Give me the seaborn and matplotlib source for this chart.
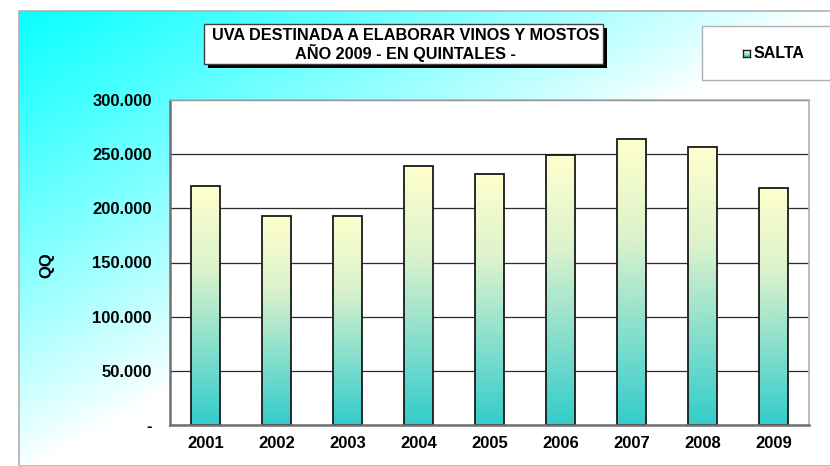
import numpy as np
import matplotlib
matplotlib.use("Agg")
import matplotlib.pyplot as plt
import matplotlib.patches as mpatches
from matplotlib.ticker import FuncFormatter, FixedLocator
import seaborn as sns

years = ["2001", "2002", "2003", "2004", "2005", "2006", "2007", "2008", "2009"]
values = [220600, 192900, 193200, 239100, 232000, 249000, 264000, 256600, 219000]
title_lines = ["UVA DESTINADA A ELABORAR VINOS Y MOSTOS", "AÑO 2009 - EN QUINTALES -"]
series_name = "SALTA"
y_label = "QQ"

sns.set_style("white")
plt.rcParams["font.family"] = ["Liberation Sans", "DejaVu Sans"]
plt.rcParams["text.color"] = "black"
plt.rcParams["xtick.color"] = "black"
plt.rcParams["ytick.color"] = "black"

W, H = 830, 466
fig = plt.figure(figsize=(W / 100, H / 100), dpi=100)
fig.patch.set_facecolor("white")


def fx(x):
    return x / W


def fy(y):
    return 1 - y / H


# background gradient (chart area)
bg = fig.add_axes([fx(19), 0, 1 - fx(19), fy(11)])
bg.set_axis_off()
ny, nx = 200, 400
xx, yy = np.meshgrid(np.linspace(0, 1, nx), np.linspace(0, 1, ny))
t = np.clip(1 - (xx * 1.0 + yy * 0.98), 0, 1) ** 0.9
img = np.ones((ny, nx, 3))
img[..., 0] = 1 - t * 0.97
bg.imshow(img, aspect="auto", extent=[0, 1, 1, 0], interpolation="bilinear")
bg.set_xlim(0, 1)
bg.set_ylim(1, 0)
fig.add_artist(mpatches.Rectangle((fx(19), 0), 1, fy(11), transform=fig.transFigure,
                                  fill=False, edgecolor="#b0b0b0", lw=1.2))

# main axes
ax = fig.add_axes([fx(170), fy(425), fx(809) - fx(170), fy(100) - fy(425)])
ax.set_facecolor("white")
sns.barplot(x=years, y=values, width=0.4, color="#ffffcc", edgecolor="#1a1a1a",
            linewidth=1.3, ax=ax, zorder=3)

# gradient fill per bar
top_c = np.array([1.0, 1.0, 0.80])
mid_c = np.array([0.86, 0.95, 0.80])
bot_c = np.array([0.20, 0.80, 0.80])
grad_n = 256
g = np.linspace(0, 1, grad_n)[:, None]  # 0 top -> 1 bottom
cols = np.where(g < 0.35,
                top_c + (mid_c - top_c) * (g / 0.35),
                mid_c + (bot_c - mid_c) * ((g - 0.35) / 0.65))
grad = np.repeat(cols[:, None, :], 2, axis=1).reshape(grad_n, 2, 3)
for p in ax.patches:
    x0, y0 = p.get_x(), p.get_y()
    w, h = p.get_width(), p.get_height()
    im = ax.imshow(grad, extent=[x0, x0 + w, y0, y0 + h], aspect="auto",
                   origin="upper", zorder=2.9, interpolation="bilinear")
    im.set_clip_path(p)
    p.set_facecolor("none")

ax.set_xlim(-0.5, 8.5)
ax.set_ylim(0, 300000)
ax.set_yticks(np.arange(0, 300001, 50000))
ax.yaxis.set_major_formatter(FuncFormatter(lambda v, pos: "-" if v == 0 else f"{int(v):,}".replace(",", ".")))
ax.yaxis.grid(True, color="#2a2a2a", lw=0.9)
ax.set_axisbelow(True)
ax.tick_params(axis="y", direction="out", length=5, width=1, color="#707070", pad=8,
               labelsize=12, labelcolor="black")
ax.tick_params(axis="x", which="major", length=0, pad=8, labelsize=12, labelcolor="black")
ax.xaxis.set_minor_locator(FixedLocator(np.arange(-0.5, 9, 1)))
ax.tick_params(axis="x", which="minor", direction="out", length=5, width=1, color="#707070")
for lbl in ax.get_xticklabels() + ax.get_yticklabels():
    lbl.set_fontweight("bold")
ax.set_xlabel("")
ax.set_ylabel("")
for s in ["left", "bottom"]:
    ax.spines[s].set_color("#707070")
    ax.spines[s].set_linewidth(1.8)
for s in ["top", "right"]:
    ax.spines[s].set_color("#b0b0b0")
    ax.spines[s].set_linewidth(1.2)
ax.spines["bottom"].set_zorder(5)

fig.text(fx(47), fy(265), y_label, rotation=90, ha="center", va="center",
         fontsize=12, fontweight="bold", color="black")

# title box with shadow
tx0, tx1, ty0, ty1 = 204, 603, 24, 64
fig.add_artist(mpatches.Rectangle((fx(tx0 + 4), fy(ty1 + 4)), fx(tx1 - tx0), fy(ty0) - fy(ty1),
                                  transform=fig.transFigure, facecolor="black", edgecolor="none"))
fig.add_artist(mpatches.Rectangle((fx(tx0), fy(ty1)), fx(tx1 - tx0), fy(ty0) - fy(ty1),
                                  transform=fig.transFigure, facecolor="white", edgecolor="#404040", lw=1))
fig.text(fx((tx0 + tx1) / 2 + 2), fy(35), title_lines[0], ha="center", va="center",
         fontsize=11.7, fontweight="bold", color="black")
fig.text(fx((tx0 + tx1) / 2 + 2), fy(53), title_lines[1], ha="center", va="center",
         fontsize=11.7, fontweight="bold", color="black")

# legend box
fig.add_artist(mpatches.Rectangle((fx(702), fy(80)), fx(140), fy(26) - fy(80),
                                  transform=fig.transFigure, facecolor="white", edgecolor="#b0b0b0", lw=1))
lg = fig.add_axes([fx(743), fy(57), fx(7), fy(50) - fy(57)])
lg.set_zorder(10)
lg.imshow(grad, aspect="auto", extent=[0, 1, 0, 1])
lg.set_xticks([])
lg.set_yticks([])
for s in lg.spines.values():
    s.set_color("#222222")
    s.set_linewidth(1)
fig.text(fx(754), fy(53.5), series_name, ha="left", va="center", fontsize=11.5,
         fontweight="bold", color="black")

fig.savefig("out.png", dpi=100)
